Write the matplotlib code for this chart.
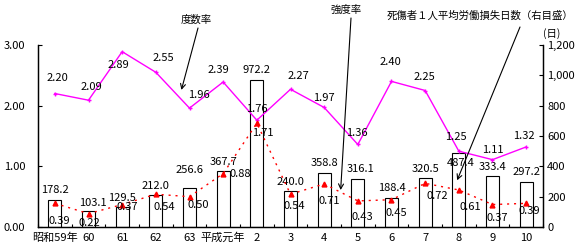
import numpy as np
import matplotlib
matplotlib.use("Agg")
import matplotlib.pyplot as plt

plt.rcParams['font.family'] = ['Noto Sans CJK JP', 'DejaVu Sans']

years = ['昭和59年', '60', '61', '62', '63', '平成元年', '2', '3', '4', '5', '6', '7', '8', '9', '10']
lost_days = [178.2, 103.1, 129.5, 212.0, 256.6, 367.7, 972.2, 240.0, 358.8, 316.1, 188.4, 320.5, 487.4, 333.4, 297.2]
freq_rate = [2.20, 2.09, 2.89, 2.55, 1.96, 2.39, 1.76, 2.27, 1.97, 1.36, 2.40, 2.25, 1.25, 1.11, 1.32]
sev_rate = [0.39, 0.22, 0.37, 0.54, 0.50, 0.88, 1.71, 0.54, 0.71, 0.43, 0.45, 0.72, 0.61, 0.37, 0.39]

# label offsets in pixels (dx, dy)
freq_off = [(3, 16), (3, 13), (-4, -13), (8, 14), (9, 13), (-5, 12), (0, 11), (8, 13),
            (0, 9), (-1, 11), (-1, 19), (-1, 14), (-3, 14), (0, 10), (-2, 11)]
sev_off = [(4, -18), (1, -9), (5, -2), (8, -13), (9, -8), (17, 0), (6, -10), (4, -12),
           (5, -17), (4, -16), (5, -13), (12, -13), (11, -17), (5, -13), (3, -8)]
bar_off = [(0, 10), (4, 8), (0, 9), (0, 9), (0, 18), (0, 9), (0, 10), (0, 9),
           (0, 10), (3, 10), (0, 10), (0, 9), (2, -10), (0, 9), (0, 10)]

W, H = 583, 247
fig = plt.figure(figsize=(W / 100, H / 100), dpi=100)
ax = fig.add_axes([38 / W, 20 / H, 505 / W, 182 / H])
ax2 = ax.twinx()
ax.set_zorder(ax2.get_zorder() + 1)
ax.patch.set_visible(False)

x = np.arange(len(years))
fs = 7.5   # axis / title text
nfs = 8    # data labels

ax2.bar(x, lost_days, width=0.38, facecolor='white', edgecolor='black', linewidth=0.8)
for i, v in enumerate(lost_days):
    ax2.annotate(f'{v:.1f}', (x[i], v), xytext=bar_off[i], textcoords='offset pixels',
                 ha='center', va='center', fontsize=nfs)

ax.plot(x, freq_rate, color='#FF00FF', lw=1, marker='+', ms=3.5, mew=1)
for i, v in enumerate(freq_rate):
    ax.annotate(f'{v:.2f}', (x[i], v), xytext=freq_off[i], textcoords='offset pixels',
                ha='center', va='center', fontsize=nfs)

ax.plot(x, sev_rate, color='#FF0000', lw=1, ls=(0, (1.5, 3.5)), marker='^', ms=3.5)
for i, v in enumerate(sev_rate):
    ax.annotate(f'{v:.2f}', (x[i], v), xytext=sev_off[i], textcoords='offset pixels',
                ha='center', va='center', fontsize=nfs)

ax.set_xlim(-0.45, 14.5)
ax.set_ylim(0, 3)
ax2.set_ylim(0, 1200)
ax.set_yticks([0, 1, 2, 3])
ax.set_yticklabels([f'{t:.2f}' for t in [0, 1, 2, 3]], fontsize=nfs)
ax2.set_yticks(range(0, 1201, 200))
ax2.set_yticklabels([f'{t:,}' for t in range(0, 1201, 200)], fontsize=nfs)
ax.set_xticks(x)
ax.set_xticklabels(years, fontsize=nfs)
ax.set_xticks(np.arange(-0.5, 14.6, 1), minor=True)

ax.tick_params(axis='y', direction='in', length=3, pad=9, width=0.8)
ax.tick_params(axis='x', which='major', length=0, pad=4)
ax.tick_params(axis='x', which='minor', direction='in', length=2, width=0.8)
ax2.tick_params(axis='y', direction='in', length=3, pad=3, width=0.8)
for a in (ax, ax2):
    a.spines['top'].set_visible(False)
    for s in ('left', 'right', 'bottom'):
        a.spines[s].set_linewidth(0.9)

def fpos(px, py):
    return px / W, 1 - py / H

fig.text(*fpos(196, 20), '度数率', fontsize=fs, ha='center', va='center')
fig.text(*fpos(346, 10), '強度率', fontsize=fs, ha='center', va='center')
fig.text(*fpos(480, 16), '死傷者１人平均労働損失日数（右目盛）', fontsize=fs, ha='center', va='center')
fig.text(*fpos(552, 34), '(日)', fontsize=fs, ha='center', va='center')

arrow = dict(arrowstyle='->,head_length=0.35,head_width=0.18', color='black', lw=0.8,
             shrinkA=0, shrinkB=0)
ax.annotate('', xy=(3.76, 2.26), xytext=fpos(198, 28), textcoords='figure fraction',
            arrowprops=arrow, annotation_clip=False)
ax.annotate('', xy=(8.49, 0.61), xytext=fpos(351, 18), textcoords='figure fraction',
            arrowprops=arrow, annotation_clip=False)
ax.annotate('', xy=(11.95, 0.77), xytext=fpos(520, 27), textcoords='figure fraction',
            arrowprops=arrow, annotation_clip=False)

fig.savefig('out.png', dpi=100)
